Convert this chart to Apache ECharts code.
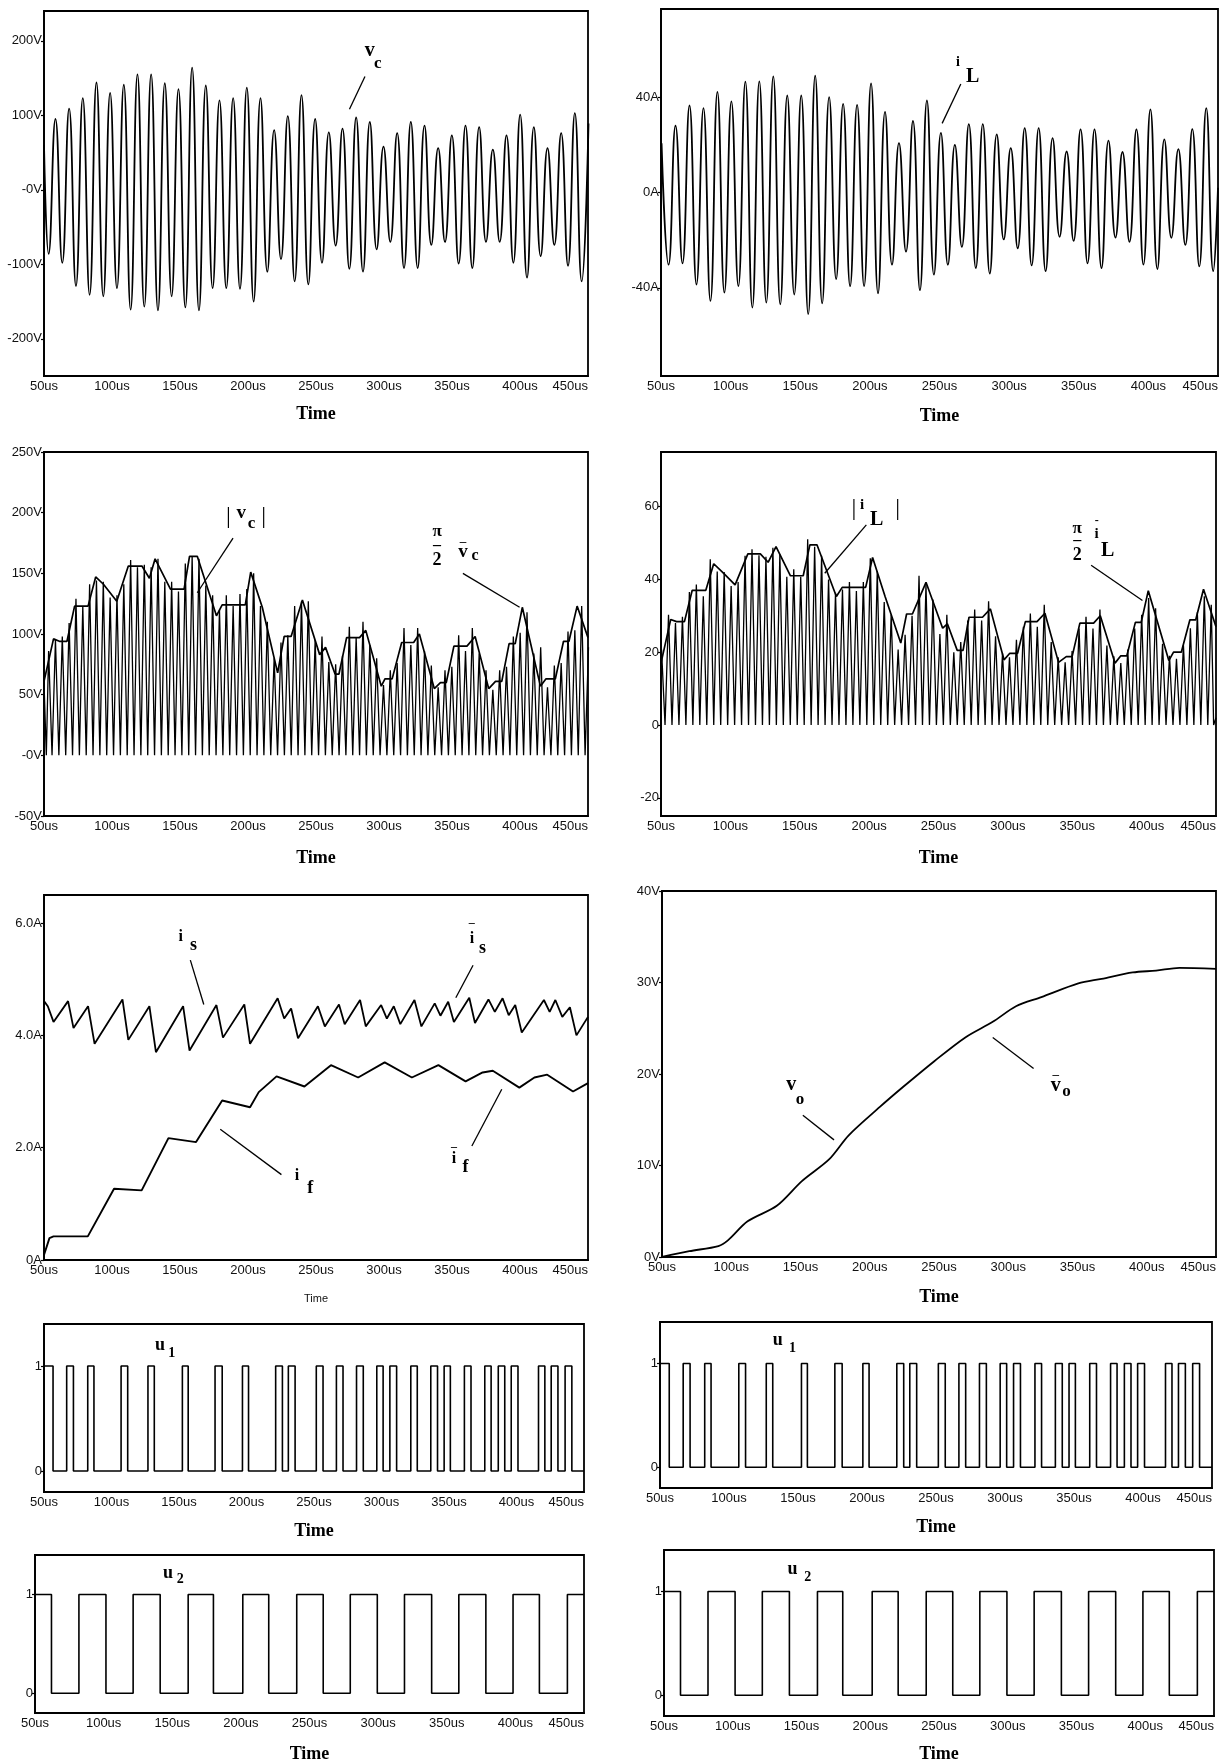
<!DOCTYPE html>
<html>
<head>
<meta charset="utf-8">
<script src="https://cdn.jsdelivr.net/npm/echarts@6/dist/echarts.min.js"></script>
<style>
  html, body { margin: 0; padding: 0; background: #fff; }
  #chart { width: 1227px; height: 1764px; }
</style>
</head>
<body>
<div id="chart"></div>
<script>
// ---- time axis (microseconds) ----
const timeRangeUs = [50, 450];

// ---- v_c : capacitor voltage, alternating extremes (V) ----
const vcStartV = 60;                 // value at 50us
const vcFirstExtremeUs = 53.4;       // first trough
const vcHalfPeriodUs = 5.025;
const vcTroughs = [-86,-98,-129,-141,-143,-132,-161,-157,-162,-143,-158,-162,-132,-132,-133,-150,-110,-93,-123,-127,-98,-75,-106,-110,-80,-70,-105,-105,-74,-70,-99,-105,-70,-70,-98,-118,-89,-74,-102,-123];
const vcCrests  = [95,109,123,144,130,141,155,155,143,135,164,140,120,123,137,123,80,99,127,95,77,82,97,91,58,76,91,86,56,73,86,84,54,73,101,84,56,76,103,89];

// ---- i_L : inductor current, alternating extremes (A) ----
const iLFirstExtremeUs = 50.4;       // first crest
const iLHalfPeriodUs = 5.015;
const iLCrests  = [20.7,28,36.5,35.4,42.2,38.2,46.5,46.6,48.7,40.7,40.7,49,40,37.2,36.8,45.8,33.8,20.7,30,38.6,25,20,28.7,28.7,24.4,18.6,27,27,22.8,17.2,26.5,26.5,21.8,17,26.5,34.9,22.3,18.2,26.6,35.4];
const iLTroughs = [-30.3,-29.7,-38.6,-45.5,-42,-39.3,-48.3,-46.2,-46.9,-42.8,-51,-46.5,-36.3,-39.3,-39.3,-42.3,-30.3,-24.8,-41,-34.5,-30.3,-22.8,-31.7,-34,-19.7,-23.4,-30.6,-33,-18.6,-20.3,-29.7,-31.7,-18.9,-20.7,-30.3,-32.1,-19,-22,-31,-33];
const iLEndA = 2;                    // value at 450us

// ---- pi/2 * averaged |v_c| and |i_L| envelopes [us, value] ----
const vcEnvelope = [[50,61],[57,96],[61.3,94],[66.9,94],[72.5,123],[82.4,123],[88,147],[93.7,141],[103.5,127],[112,156],[122,156],[127.5,146],[131.7,162],[143,137],[153,137],[157,164],[162.7,164],[176.8,115],[181,124],[198,124],[202,151],[210.5,122],[221.8,68],[226.6,98],[231.7,98],[240,128],[252.7,83],[257,89],[264,67],[266.9,67],[272.5,97],[282,97],[286.6,103],[298,57],[300.7,63],[306,63],[313,93],[321.8,93],[326,100],[337,55],[341.5,60],[345.8,60],[351.4,90],[361,90],[367,98],[377,55],[382,61],[386.6,61],[392,92],[396.5,92],[401.7,122],[415,57],[419,63],[426,63],[432,94],[436,94],[442,123],[450,97]];
const iLEnvelope = [[50,17],[57,29],[61.2,28.4],[66.9,28.4],[72.5,37],[82.3,37],[88,44.3],[95,41.7],[103.4,38.5],[112.6,47],[121.6,47],[127.2,44.7],[132.9,49],[143.3,41],[152.5,41],[157.3,49.5],[162.4,49.5],[176.4,35.3],[180.6,37.8],[197.5,37.8],[202.5,46],[211.5,35.3],[222.8,22.5],[227,30.5],[231.2,30.5],[241,39.2],[253,26.6],[256.4,27.8],[263.5,20.5],[267.7,20.5],[272,29.6],[281.7,29.6],[287.4,31.9],[297.2,17.9],[301.4,19.7],[307,19.7],[312.6,28.4],[321,28.4],[326.7,30.7],[336.5,17.2],[342.1,18.8],[346.3,18.8],[351.9,28],[361.8,28],[366.6,30],[377.2,17],[381.4,19],[385.7,19],[391.9,28.2],[396.1,28.2],[401.2,36.9],[416,17.7],[419.4,20],[425,20],[431.2,28.9],[435.4,28.9],[441,37.3],[450,27]];

// ---- source current i_s and filter current i_f [us, A] ----
const isTrace = [[50,4.61],[52.8,4.52],[57,4.24],[67.7,4.61],[71.7,4.13],[82.4,4.52],[87.2,3.85],[107.7,4.64],[112,3.92],[127.5,4.52],[132.3,3.7],[152.3,4.52],[157,3.73],[176.8,4.54],[181.6,3.96],[197.3,4.55],[201.5,3.85],[221.8,4.66],[226.6,4.3],[231.7,4.48],[236.8,3.95],[251.4,4.52],[256.5,4.16],[266.9,4.55],[271.1,4.2],[282.4,4.63],[286.6,4.16],[297.9,4.54],[302.1,4.3],[307.2,4.52],[312,4.2],[322.4,4.63],[327.5,4.16],[337.3,4.57],[341.5,4.35],[347.2,4.6],[351.4,4.24],[362.7,4.67],[366.9,4.22],[376.8,4.64],[381.5,4.42],[387.2,4.66],[391.7,4.36],[396.5,4.54],[401.3,4.05],[417.6,4.63],[421.8,4.42],[426,4.63],[431.1,4.33],[436.7,4.5],[441.5,4.0],[450,4.33]];
const ifTrace = [[50,0.09],[54,0.39],[57,0.42],[82.2,0.42],[101.5,1.27],[121.8,1.24],[141.5,2.17],[161.8,2.1],[181,2.84],[201.5,2.72],[207.9,2.99],[221,3.27],[241.5,3.09],[261,3.47],[281,3.25],[300.5,3.52],[320.5,3.25],[340,3.47],[360,3.18],[372.5,3.34],[380,3.37],[399.5,3.07],[410.6,3.25],[420,3.3],[439,3.0],[450,3.15]];

// ---- output voltage v_o [us, V] ----
const voTrace = [[50,0],[69.7,0.63],[90.7,1.2],[97.8,1.85],[111.8,3.9],[132.9,5.6],[151,8.3],[170.8,10.7],[184.8,13.3],[207.3,16.4],[224.2,18.6],[246.6,21.4],[269,24],[288.8,25.7],[305.6,27.4],[323.9,28.4],[350.6,29.9],[367.4,30.4],[389.9,31.1],[406.7,31.3],[423.6,31.6],[450,31.5]];

// ---- switching functions: intervals where the gate signal is 1 [us, us] ----
const u1High = [[50,56.7],[66.8,71.8],[82.4,87],[107.1,112],[127,131.7],[152.5,156.8],[176.7,182],[197,201.5],[221.6,226.6],[231,236],[251.7,256.7],[266.6,271.5],[281.5,286.5],[296.5,301.2],[306.2,311.2],[321.7,326.5],[336.5,341.5],[346.4,351],[361.4,366.3],[376.5,381.2],[386.5,391.3],[396.1,401.1],[416.3,421],[425.7,430.7],[436,441]];
const u2High = [[50,62],[82,101.7],[121.5,141.2],[161.6,180],[201.4,220.3],[240.7,260],[279.7,299.4],[319.2,339],[358.8,378.5],[398.3,417.5],[437.9,450]];

// ---- y-axis tick labels ----
const vcTicks = [-200, -100, 0, 100, 200];
const iLTicks = [-40, 0, 40];
const vcAbsTicks = [-50, 0, 50, 100, 150, 200, 250];
const iLAbsTicks = [-20, 0, 20, 40, 60];
const currentTicks = [0, 2, 4, 6];
const voTicks = [0, 10, 20, 30, 40];
const gateTicks = [0, 1];

// ---------------------------------------------------------------
const SERIF = '"Liberation Serif","Times New Roman","DejaVu Serif",serif';
const SANS = '"Liberation Sans",Arial,"DejaVu Sans",sans-serif';
const INK = '#000';

// alternating extremes -> polyline points
function extremes(t0, half, first, second) {
  const pts = [];
  for (let k = 0; k < first.length; k++) {
    pts.push([t0 + 2 * k * half, first[k]]);
    if (k < second.length) pts.push([t0 + (2 * k + 1) * half, second[k]]);
  }
  return pts;
}
// full-wave rectified version: |value| at each extreme, zero between them
function rectified(pts) {
  const out = [];
  pts.forEach((p, i) => {
    out.push([p[0], Math.abs(p[1])]);
    if (i < pts.length - 1 && Math.sign(p[1]) !== Math.sign(pts[i + 1][1])) {
      out.push([(p[0] + pts[i + 1][0]) / 2, 0]);
    }
  });
  return out;
}
function pulseTrain(highs) {
  const pts = [];
  highs.forEach(([a, b]) => {
    if (a <= timeRangeUs[0]) pts.push([a, 1]); else pts.push([a, 0], [a, 1]);
    if (b >= timeRangeUs[1]) pts.push([b, 1]); else pts.push([b, 1], [b, 0]);
  });
  if (pts[0][0] > timeRangeUs[0]) pts.unshift([timeRangeUs[0], 0]);
  const last = pts[pts.length - 1];
  if (last[0] < timeRangeUs[1]) pts.push([timeRangeUs[1], last[1]]);
  return pts;
}

const vcPts = [[timeRangeUs[0], vcStartV]].concat(extremes(vcFirstExtremeUs, vcHalfPeriodUs, vcTroughs, vcCrests));
const iLPts = extremes(iLFirstExtremeUs, iLHalfPeriodUs, iLCrests, iLTroughs).concat([[timeRangeUs[1], iLEndA]]);

// panel frames in page pixels
const frames = [
  { left: 44,  top: 11,   width: 544, height: 365 },
  { left: 661, top: 9,    width: 557, height: 367 },
  { left: 44,  top: 452,  width: 544, height: 364 },
  { left: 661, top: 452,  width: 555, height: 364 },
  { left: 44,  top: 895,  width: 544, height: 365 },
  { left: 662, top: 891,  width: 554, height: 366 },
  { left: 44,  top: 1324, width: 540, height: 168 },
  { left: 660, top: 1322, width: 552, height: 166 },
  { left: 35,  top: 1555, width: 549, height: 164 },
  { left: 664, top: 1550, width: 550, height: 168 }
];

const yCfg = [
  { min: -250, max: 240, ticks: vcTicks, fmt: v => (v === 0 ? '-0' : v) + 'V' },
  { min: -77, max: 77, ticks: iLTicks, fmt: v => v + 'A' },
  { min: -50, max: 250, ticks: vcAbsTicks, fmt: v => (v === 0 ? '-0' : v) + 'V' },
  { min: -25, max: 75, ticks: iLAbsTicks, fmt: v => String(v) },
  { min: 0, max: 6.5, ticks: currentTicks, fmt: v => (v === 0 ? '0A' : v.toFixed(1) + 'A') },
  { min: 0, max: 40, ticks: voTicks, fmt: v => v + 'V' },
  { min: -0.2, max: 1.4, ticks: gateTicks, fmt: v => String(v) },
  { min: -0.2, max: 1.4, ticks: gateTicks, fmt: v => String(v) },
  { min: -0.2, max: 1.4, ticks: gateTicks, fmt: v => String(v) },
  { min: -0.2, max: 1.4, ticks: gateTicks, fmt: v => String(v) }
];
const nameGaps = [29, 31, 33, 33, 33, 31, 30, 30, 32, 29];

// annotation texts [text, t, y, size, weight] and leader lines [t1, y1, t2, y2]
const notes = [
  { texts: [['v', 289.5, 186, 20], ['c', 295.5, 170, 17]], leaders: [[286, 152, 274.6, 108]] },
  { texts: [['i', 263.3, 54.5, 14], ['L', 273.9, 48.5, 20]], leaders: [[265.3, 45.5, 251.9, 29]] },
  { texts: [['|', 185.5, 197, 24, 'normal'], ['v', 195, 200, 19], ['c', 202.5, 191, 17], ['|', 211.5, 197, 24, 'normal'],
            ['π', 339, 184, 17], ['–', 339, 172.5, 16], ['2', 339, 161, 18],
            ['–', 358, 176, 13], ['v', 358, 167.5, 19], ['c', 367, 164.5, 16]],
    leaders: [[189, 179, 162.7, 134], [358, 150, 399.7, 122]] },
  { texts: [['|', 189, 59.4, 24, 'normal'], ['i', 195, 60.5, 15], ['L', 205.5, 56.5, 20], ['|', 220.5, 59.4, 24, 'normal'],
            ['π', 350, 54, 17], ['–', 350, 50.5, 16], ['2', 350, 46.5, 18],
            ['-', 364, 56, 12], ['i', 364, 52.5, 15], ['L', 372, 47.8, 20]],
    leaders: [[198, 55, 168, 41.7], [360, 43.9, 397, 34.2]] },
  { texts: [['i', 150.6, 5.76, 16], ['s', 160, 5.6, 18],
            ['–', 364.6, 6.0, 12], ['i', 364.6, 5.72, 16], ['s', 372.5, 5.55, 18],
            ['i', 236, 1.49, 16], ['f', 245.8, 1.28, 18],
            ['–', 351.4, 2.02, 12], ['i', 351.4, 1.8, 16], ['f', 359.9, 1.65, 18]],
    leaders: [[157.6, 5.34, 167.5, 4.55], [365.5, 5.25, 352.8, 4.67], [224.6, 1.52, 179.6, 2.33], [364.6, 2.03, 386.6, 3.04]] },
  { texts: [['v', 143.3, 18.8, 20], ['o', 149.7, 17.2, 17],
            ['–', 334.3, 19.9, 13], ['v', 334.3, 18.7, 20], ['o', 342, 18.1, 17]],
    leaders: [[151.7, 15.5, 174.2, 12.8], [288.8, 24, 318.3, 20.6]] },
  { texts: [['u', 136, 1.2, 18], ['1', 144.6, 1.12, 14]], leaders: [] },
  { texts: [['u', 135.3, 1.22, 18], ['1', 146, 1.15, 14]], leaders: [] },
  { texts: [['u', 146.9, 1.21, 18], ['2', 155.9, 1.15, 14]], leaders: [] },
  { texts: [['u', 143.5, 1.21, 18], ['2', 154.5, 1.14, 14]], leaders: [] }
];

const grids = [], xAxes = [], yAxes = [], series = [];
frames.forEach((f, i) => {
  grids.push(Object.assign({ show: true, borderColor: INK, borderWidth: 1.8, backgroundColor: 'transparent' }, f));
  const smallName = i === 4;
  xAxes.push({
    type: 'value', gridIndex: i, min: timeRangeUs[0], max: timeRangeUs[1], interval: 50,
    name: 'Time', nameLocation: 'middle', nameGap: nameGaps[i],
    nameTextStyle: smallName
      ? { fontFamily: SANS, fontSize: 11, color: '#111' }
      : { fontFamily: SERIF, fontSize: 18, fontWeight: 'bold', color: INK },
    axisLine: { show: true, onZero: false, lineStyle: { color: INK, width: 1.8 } },
    axisTick: { show: false },
    splitLine: { show: false },
    axisLabel: { formatter: v => v + 'us', fontFamily: SANS, fontSize: 13, color: '#111', margin: 4,
                 showMinLabel: true, showMaxLabel: true, alignMaxLabel: 'right' }
  });
  const y = yCfg[i];
  yAxes.push({
    type: 'value', gridIndex: i, min: y.min, max: y.max,
    axisLine: { show: true, onZero: false, lineStyle: { color: INK, width: 1.8 } },
    axisTick: { show: true, length: 3, customValues: y.ticks, lineStyle: { color: INK, width: 1.2 } },
    splitLine: { show: false },
    axisLabel: { customValues: y.ticks, formatter: y.fmt, fontFamily: SANS, fontSize: 13, color: '#111', margin: 2 }
  });
});

function line(i, data, opts) {
  return Object.assign({
    type: 'line', xAxisIndex: i, yAxisIndex: i, data, showSymbol: false, symbol: 'none',
    lineStyle: { color: INK, width: 1.6 }, animation: false, silent: true, clip: true
  }, opts || {});
}

series.push(line(0, vcPts, { smooth: 0.5, lineStyle: { color: INK, width: 1.8 } }));
series.push(line(1, iLPts, { smooth: 0.5, lineStyle: { color: INK, width: 1.8 } }));
series.push(line(2, rectified(vcPts), { lineStyle: { color: INK, width: 1.3 } }));
series.push(line(2, vcEnvelope, { lineStyle: { color: INK, width: 1.7 } }));
series.push(line(3, rectified(iLPts), { lineStyle: { color: INK, width: 1.3 } }));
series.push(line(3, iLEnvelope, { lineStyle: { color: INK, width: 1.7 } }));
series.push(line(4, isTrace, { lineStyle: { color: INK, width: 1.8 } }));
series.push(line(4, ifTrace, { lineStyle: { color: INK, width: 1.9 } }));
series.push(line(5, voTrace, { smooth: 0.3, lineStyle: { color: INK, width: 1.8 } }));
series.push(line(6, pulseTrain(u1High)));
series.push(line(7, pulseTrain(u1High)));
series.push(line(8, pulseTrain(u2High)));
series.push(line(9, pulseTrain(u2High)));

// annotations carried by an empty series in each panel
notes.forEach((n, i) => {
  series.push({
    type: 'line', xAxisIndex: i, yAxisIndex: i, data: [], silent: true, animation: false,
    markPoint: {
      symbol: 'circle', symbolSize: 0, silent: true, animation: false,
      data: n.texts.map(([txt, t, v, size, weight]) => ({
        coord: [t, v],
        label: { show: true, position: 'inside', formatter: txt, fontFamily: SERIF,
                 fontSize: size, fontWeight: weight || 'bold', color: INK }
      }))
    },
    markLine: {
      symbol: ['none', 'none'], silent: true, animation: false,
      label: { show: false },
      lineStyle: { color: INK, width: 1.3, type: 'solid' },
      data: n.leaders.map(([a, b, c, d]) => [{ coord: [a, b] }, { coord: [c, d] }])
    }
  });
});

const chart = echarts.init(document.getElementById('chart'), null, { renderer: 'canvas' });
chart.setOption({
  backgroundColor: '#fff',
  animation: false,
  grid: grids,
  xAxis: xAxes,
  yAxis: yAxes,
  series
});
</script>
</body>
</html>
